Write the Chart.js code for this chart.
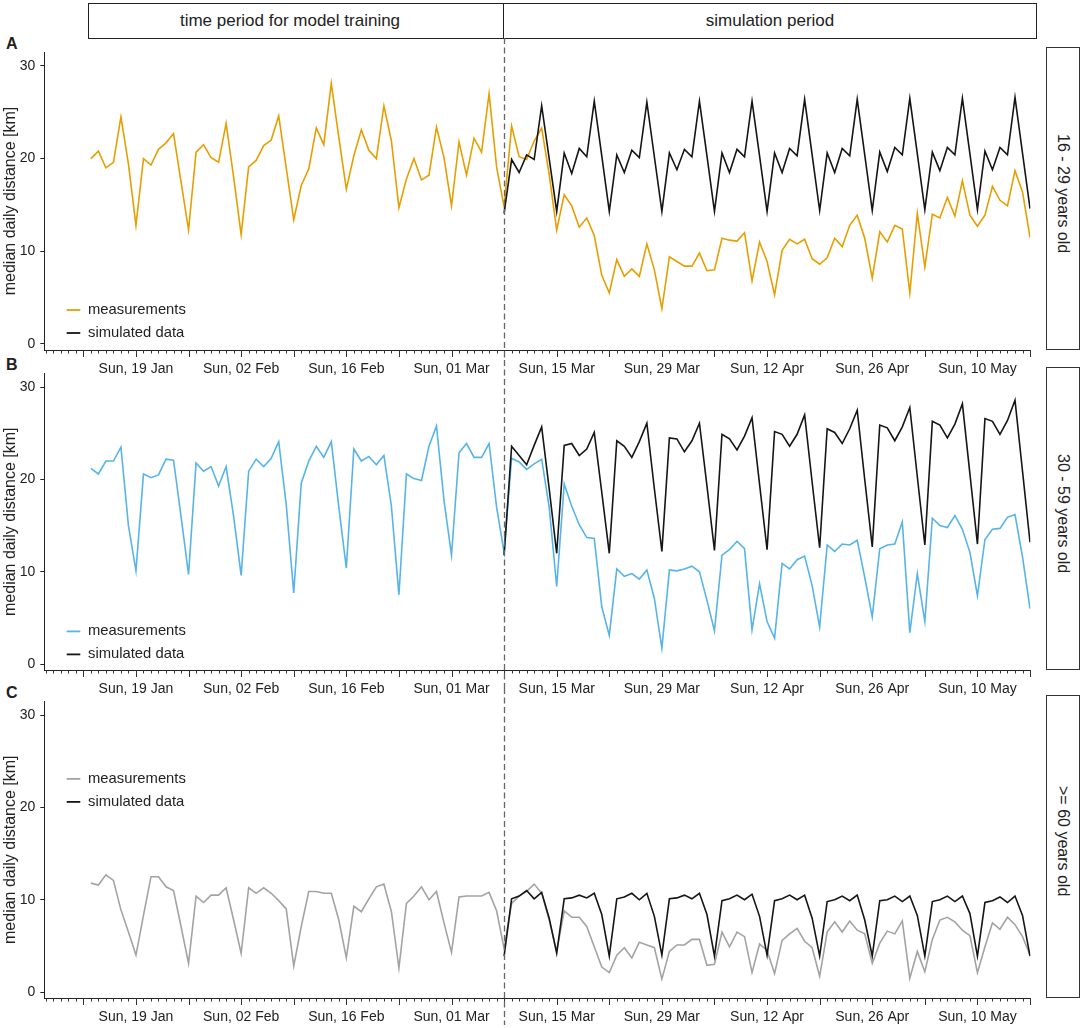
<!DOCTYPE html>
<html><head><meta charset="utf-8">
<script src="https://cdn.jsdelivr.net/npm/chart.js@4.4.0/dist/chart.umd.min.js"></script>
<style>
html,body{margin:0;padding:0;background:#fff;overflow:hidden;width:1084px;height:1028px;}
body{position:relative;font-family:"Liberation Sans",Arial,sans-serif;color:#222;}
.cv{position:absolute;left:0;}
.hdr{position:absolute;top:3px;height:36px;box-sizing:border-box;border:1px solid #222;display:flex;align-items:center;justify-content:center;font-size:17px;}
.strip{position:absolute;left:1046px;width:34px;box-sizing:border-box;border:1px solid #333;display:flex;align-items:center;justify-content:center;font-size:16px;}
.strip span{writing-mode:vertical-rl;white-space:nowrap;margin-bottom:10px;}
.lab{position:absolute;left:6px;font-weight:bold;font-size:16px;line-height:16px;}
</style></head><body>
<div class="hdr" style="left:88px;width:416px;padding-right:12px;">time period for model training</div>
<div class="hdr" style="left:503px;width:534px;">simulation period</div>
<div class="lab" style="top:36px;">A</div>
<div class="lab" style="top:357px;">B</div>
<div class="lab" style="top:685px;">C</div>
<div class="strip" style="top:47px;height:303px;"><span id="sA"></span></div>
<div class="strip" style="top:367px;height:303px;"><span id="sB"></span></div>
<div class="strip" style="top:695px;height:303px;"><span id="sC"></span></div>
<canvas id="cA" class="cv" width="1040" height="342" style="top:38px;width:1040px;height:342px;"></canvas>
<canvas id="cB" class="cv" width="1040" height="340" style="top:360px;width:1040px;height:340px;"></canvas>
<canvas id="cC" class="cv" width="1040" height="340" style="top:688px;width:1040px;height:340px;"></canvas>
<script>
// ---- data ----
const DAY0 = '2020-01-12';          // Sunday, origin of the day axis
const measStart = '2020-01-13';     // first measurement day
const simStart = '2020-03-08';      // first simulated day (start of simulation period)
const tickDates = ['2020-01-19','2020-02-02','2020-02-16','2020-03-01','2020-03-15','2020-03-29','2020-04-12','2020-04-26','2020-05-10'];
const tickLabels = ['Sun, 19 Jan','Sun, 02 Feb','Sun, 16 Feb','Sun, 01 Mar','Sun, 15 Mar','Sun, 29 Mar','Sun, 12 Apr','Sun, 26 Apr','Sun, 10 May'];
const yTicks = [0, 10, 20, 30];
const groups = ['16 - 29 years old', '30 - 59 years old', '>= 60 years old'];
const seriesNames = ['measurements', 'simulated data'];

const measA = [20.0,20.8,19.0,19.6,24.5,19.4,12.8, 20.0,19.3,21.0,21.7,22.7,17.5,12.3,
  20.7,21.5,20.1,19.6,23.8,18.0,11.8, 19.1,19.8,21.4,22.0,24.6,19.0,13.4,
  17.1,18.9,23.3,21.5,28.1,22.3,16.7, 20.3,23.1,20.9,20.0,25.7,21.9,14.7,
  17.8,20.0,17.7,18.2,23.4,20.1,14.9, 21.8,18.2,22.2,20.7,27.0,19.1,14.8,
  23.5,20.2,19.9,21.9,23.3,18.3,12.3, 16.1,14.9,12.6,13.6,11.7,7.4,5.5,
  9.1,7.3,8.1,7.3,10.8,8.0,3.8, 9.4,8.9,8.4,8.4,9.8,7.9,8.0,
  11.4,11.2,11.1,12.0,6.8,11.0,8.9, 5.3,10.1,11.3,10.8,11.3,9.2,8.6,
  9.3,11.4,10.5,12.8,13.9,11.4,7.1, 12.1,11.0,12.8,12.4,5.5,14.1,8.3,
  14.0,13.6,15.8,13.8,17.6,13.9,12.7, 13.9,17.0,15.5,14.9,18.7,16.4,11.5];
const simA = [14.1,19.9,18.5,20.4,19.9,25.7,20.0, 14.3,20.6,18.4,21.1,20.2,26.2,20.3,
  14.3,20.4,18.5,20.9,20.1,26.1,20.2, 14.3,20.6,18.8,21.0,20.2,26.2,20.3,
  14.3,20.6,18.5,21.0,20.2,26.2,20.3, 14.3,20.6,18.5,21.1,20.3,26.4,20.4,
  14.4,20.6,18.5,21.1,20.3,26.4,20.4, 14.4,20.7,18.6,21.2,20.4,26.5,20.5,
  14.5,20.7,18.7,21.2,20.4,26.5,20.5, 14.5,20.8,18.8,21.2,20.4,26.6,20.6, 14.6];

const measB = [21.2,20.6,22.0,22.0,23.5,15.0,10.1, 20.6,20.2,20.5,22.2,22.1,16.0,9.7,
  21.8,20.9,21.4,19.3,21.4,16.0,9.6, 20.9,22.2,21.4,22.3,24.1,17.3,7.7,
  19.6,22.0,23.6,22.4,24.1,17.0,10.4, 23.3,22.0,22.5,21.6,22.6,17.1,7.5,
  20.6,20.1,19.9,23.6,25.8,17.7,11.8, 22.9,23.9,22.4,22.4,23.9,17.0,12.1,
  22.3,21.9,21.1,21.7,22.2,17.0,8.4, 19.5,17.1,15.1,13.7,13.6,6.2,3.1,
  10.3,9.5,9.8,9.2,10.2,7.1,1.7, 10.2,10.1,10.3,10.6,10.0,6.9,3.6,
  11.8,12.4,13.3,12.5,3.7,8.7,4.6, 2.8,10.9,10.3,11.3,11.7,8.5,4.0,
  12.9,12.2,13.0,12.9,13.4,9.4,5.1, 12.5,12.9,13.0,15.4,3.4,9.8,4.6,
  15.8,15.0,14.8,16.1,14.6,12.1,7.4, 13.5,14.6,14.7,15.9,16.2,11.6,6.0];
const simB = [11.8,23.6,22.6,21.6,23.7,25.7,19.0, 12.0,23.7,23.9,22.6,23.3,25.1,18.6,
  12.0,24.2,23.6,22.4,24.1,26.1,19.0, 12.2,24.5,24.4,23.0,24.2,26.1,19.3,
  12.3,24.9,24.4,23.2,24.7,26.7,19.5, 12.4,25.2,24.9,23.6,24.9,27.0,19.7,
  12.6,25.5,25.1,23.9,25.5,27.5,20.0, 12.7,25.9,25.6,24.2,25.7,27.8,20.3,
  12.9,26.3,25.9,24.5,26.0,28.2,20.6, 13.0,26.6,26.3,24.9,26.4,28.6,20.9, 13.2];

const measC = [11.8,11.6,12.7,12.1,8.9,6.5,4.0, 8.3,12.5,12.5,11.4,11.0,7.1,3.1,
  10.4,9.7,10.5,10.5,11.3,7.8,4.2, 11.3,10.7,11.3,10.7,9.9,9.0,2.8,
  7.1,10.9,10.9,10.7,10.7,7.8,3.7, 9.3,8.7,10.1,11.4,11.7,8.7,2.6,
  9.6,10.4,11.4,10.0,10.9,7.5,4.3, 10.3,10.4,10.4,10.4,10.8,8.8,4.7,
  9.6,10.4,10.9,11.7,10.7,7.8,4.4, 8.8,8.1,8.1,7.1,4.9,2.7,2.1,
  4.0,4.8,3.7,5.4,5.1,4.8,1.4, 4.4,5.1,5.1,5.7,5.7,2.9,3.0,
  6.5,4.9,6.5,6.0,2.1,5.2,4.5, 2.0,5.6,6.3,6.9,5.5,4.8,1.7,
  6.5,7.6,6.5,7.7,6.7,6.3,3.1, 5.3,6.6,6.3,7.7,1.5,4.4,2.2,
  5.7,7.8,8.1,7.6,6.7,6.1,2.1, 4.9,7.5,6.8,8.1,7.3,6.0,4.0];
const simC = [3.9,10.1,10.4,11.0,10.1,10.8,8.0, 4.2,10.1,10.2,10.5,10.2,10.7,8.4,
  3.9,10.1,10.3,10.7,10.0,10.7,8.2, 4.0,10.1,10.2,10.5,10.1,10.7,8.4,
  3.9,9.9,10.1,10.5,10.0,10.6,8.2, 4.0,9.9,10.1,10.5,10.0,10.5,8.0,
  3.9,9.8,10.0,10.4,9.9,10.5,7.8, 3.9,9.9,10.0,10.4,9.8,10.4,8.3,
  3.9,9.8,10.0,10.4,9.8,10.4,8.5, 3.9,9.7,9.9,10.3,9.7,10.4,8.3, 3.9];

// ---- helpers ----
function dayOf(s){ return Math.round((Date.parse(s+'T00:00:00Z') - Date.parse(DAY0+'T00:00:00Z'))/86400000); }
const tickDays = tickDates.map(dayOf);

document.getElementById('sA').textContent = groups[0];
document.getElementById('sB').textContent = groups[1];
document.getElementById('sC').textContent = groups[2];

Chart.defaults.font.family = '"Liberation Sans", Arial, sans-serif';
Chart.defaults.color = '#222';

const axisTicks = {
  id: 'axisTicks',
  afterDraw(chart){
    const xs = chart.scales.x, ctx = chart.ctx, b = chart.chartArea.bottom;
    ctx.save(); ctx.strokeStyle = '#333'; ctx.lineWidth = 1;
    for (let d = Math.ceil(xs.min); d <= Math.floor(xs.max); d++){
      const px = Math.round(xs.getPixelForValue(d)) + 0.5;
      const len = (((d % 7) + 7) % 7 === 0) ? 7 : 3.5;
      ctx.beginPath(); ctx.moveTo(px, b); ctx.lineTo(px, b + len); ctx.stroke();
    }
    ctx.restore();
  }
};
const dashLine = {
  id: 'dashLine',
  afterDraw(chart, args, opts){
    const xs = chart.scales.x, ctx = chart.ctx;
    const px = Math.round(xs.getPixelForValue(dayOf(simStart))) + 0.5;
    ctx.save(); ctx.setLineDash([6, 3.5]); ctx.strokeStyle = '#666'; ctx.lineWidth = 1.3;
    ctx.beginPath(); ctx.moveTo(px, opts.y0); ctx.lineTo(px, opts.y1); ctx.stroke();
    ctx.restore();
  }
};
const panelLegend = {
  id: 'panelLegend',
  afterDatasetsDraw(chart, args, opts){
    const ca = chart.chartArea, ctx = chart.ctx;
    ctx.save();
    ctx.font = '14.8px "Liberation Sans", Arial, sans-serif';
    ctx.textBaseline = 'middle'; ctx.textAlign = 'left';
    chart.data.datasets.forEach((ds, i) => {
      const y = ca.top + opts.y + i * 23;
      ctx.strokeStyle = ds.borderColor; ctx.lineWidth = 1.8;
      ctx.beginPath(); ctx.moveTo(ca.left + 22.4, y); ctx.lineTo(ca.left + 36, y); ctx.stroke();
      ctx.fillStyle = '#222';
      ctx.fillText(ds.label, ca.left + 43.7, y);
    });
    ctx.restore();
  }
};

function makeChart(id, meas, sim, color, padTop, legendY, dash){
  const m0 = dayOf(measStart), s0 = dayOf(simStart);
  return new Chart(document.getElementById(id), {
    type: 'line',
    data: {
      datasets: [
        { label: seriesNames[0], data: meas.map((v, i) => ({x: m0 + i, y: v})),
          borderColor: color, borderWidth: 1.6, pointRadius: 0, tension: 0, fill: false, order: 1 },
        { label: seriesNames[1], data: sim.map((v, i) => ({x: s0 + i, y: v})),
          borderColor: '#151515', borderWidth: 1.6, pointRadius: 0, tension: 0, fill: false, order: 0 }
      ]
    },
    options: {
      responsive: false, animation: false, devicePixelRatio: 1,
      layout: { padding: { left: 0, right: 9.6, top: padTop, bottom: 0 } },
      plugins: {
        legend: { display: false }, tooltip: { enabled: false },
        dashLine: dash, panelLegend: { y: legendY }
      },
      scales: {
        x: {
          type: 'linear', min: -5.2, max: 126.05,
          afterBuildTicks(scale){ scale.ticks = tickDays.map(v => ({value: v})); },
          afterFit(scale){ scale.height = 30; },
          grid: { display: false },
          border: { display: true, color: '#222', width: 1 },
          ticks: { autoSkip: false, maxRotation: 0, padding: 3, color: '#222',
            font: { size: 14 },
            callback(value){ const k = tickDays.indexOf(value); return k >= 0 ? tickLabels[k] : ''; } }
        },
        y: {
          min: -0.65, max: 31.5,
          afterBuildTicks(scale){ scale.ticks = yTicks.map(v => ({value: v})); },
          afterFit(scale){ scale.width = 44.3; },
          grid: { display: true, drawOnChartArea: false, drawTicks: true, tickLength: 4, color: '#222', lineWidth: 1 },
          border: { display: true, color: '#222', width: 1 },
          ticks: { padding: 5, color: '#222', font: { size: 14 } },
          title: { display: true, text: 'median daily distance [km]', color: '#222',
            font: { size: 16 }, padding: { top: 0.5, bottom: 0 } }
        }
      }
    },
    plugins: [axisTicks, dashLine, panelLegend]
  });
}

makeChart('cA', measA, simA, '#E69F00', 14, 258, { y0: 0, y1: 322 });
makeChart('cB', measB, simB, '#56B4E9', 12, 258, { y0: 0, y1: 328 });
makeChart('cC', measC, simC, '#A3A3A3', 12, 77.5, { y0: 0, y1: 337 });
</script>
</body></html>
